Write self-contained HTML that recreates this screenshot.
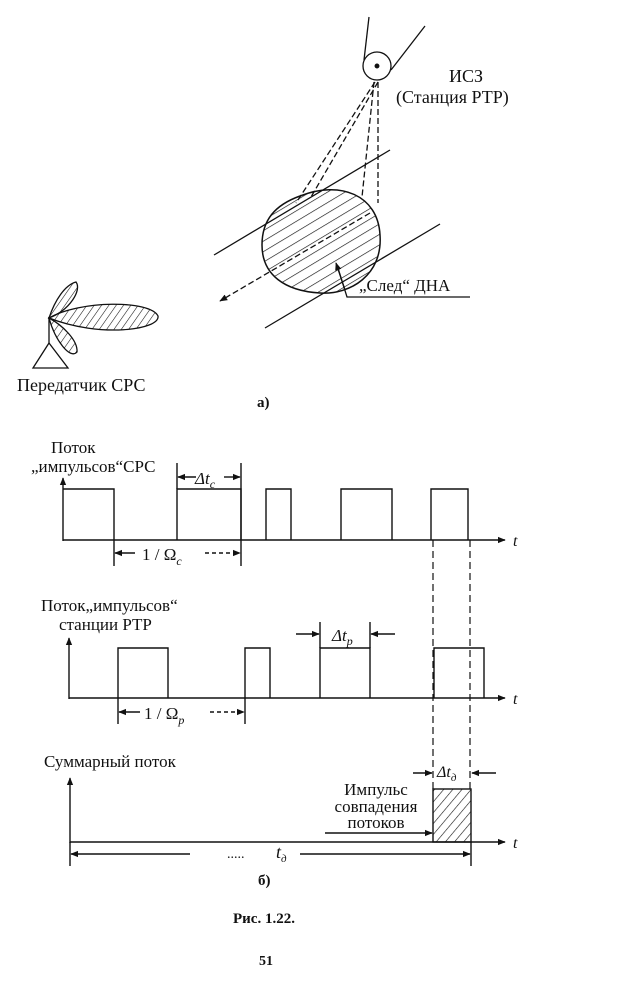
<!DOCTYPE html>
<html><head><meta charset="utf-8"><style>
html,body{margin:0;padding:0;background:#fff;}
svg{display:block;}
text{font-family:"Liberation Serif","DejaVu Serif",serif;fill:#111;}
</style></head><body>
<svg width="640" height="990" viewBox="0 0 640 990" xmlns="http://www.w3.org/2000/svg">
<defs>
<pattern id="h1" patternUnits="userSpaceOnUse" width="9" height="9" patternTransform="rotate(-31)">
<line x1="0" y1="0" x2="9" y2="0" stroke="#111" stroke-width="1.3"/>
</pattern>
<pattern id="h2" patternUnits="userSpaceOnUse" width="6" height="6" patternTransform="rotate(-55)">
<line x1="0" y1="0" x2="6" y2="0" stroke="#111" stroke-width="1.1"/>
</pattern>
<pattern id="h3" patternUnits="userSpaceOnUse" width="7" height="7" patternTransform="rotate(-50)">
<line x1="0" y1="0" x2="7" y2="0" stroke="#111" stroke-width="1.2"/>
</pattern>
<marker id="a" viewBox="0 0 10 10" refX="9" refY="5" markerWidth="8" markerHeight="8" orient="auto-start-reverse" markerUnits="userSpaceOnUse"><path d="M0,1 L10,5 L0,9 z" fill="#111"/></marker>
</defs>
<g stroke="#111" fill="none" stroke-width="1.3">
<!-- satellite -->
<line x1="369" y1="17" x2="364" y2="60"/>
<line x1="425" y1="26" x2="391" y2="70"/>
<circle cx="377" cy="66" r="14"/>
<circle cx="377" cy="66" r="1.8" fill="#111"/>
<g stroke-dasharray="6,3">
<line x1="375" y1="82" x2="296" y2="203"/>
<line x1="378" y1="82" x2="311" y2="197"/>
<line x1="374" y1="82" x2="362" y2="197"/>
<line x1="378" y1="82" x2="378" y2="203"/>
</g>
<!-- corridor -->
<line x1="214" y1="255" x2="390" y2="150"/>
<line x1="265" y1="328" x2="440" y2="224"/>
<!-- footprint -->
<path d="M300,196 C340,180 378,195 380,235 C383,275 350,295 320,293 C285,291 262,275 262,245 C262,220 275,205 300,196 Z" fill="url(#h1)" stroke-width="1.5"/>
<line x1="370" y1="213" x2="220" y2="301" stroke-dasharray="6,3" marker-end="url(#a)"/>
<polyline points="337,265 347,297 470,297"/>
<line x1="345" y1="290" x2="336" y2="263" marker-end="url(#a)"/>
<!-- antenna -->
<path d="M49,318 C80,300 150,300 158,316 C160,330 100,338 49,318 Z" fill="url(#h2)"/>
<path d="M49,318 C55,300 65,285 76,282 C82,290 70,310 49,318 Z" fill="url(#h2)"/>
<path d="M49,318 C62,325 78,340 77,352 C70,360 55,340 49,318 Z" fill="url(#h2)"/>
<line x1="49" y1="318" x2="49" y2="343"/>
<path d="M49,343 L33,368 L68,368 Z"/>
</g>
<text x="449" y="82" font-size="18" font-family="Liberation Sans, sans-serif">ИСЗ</text>
<text x="396" y="103" font-size="18" font-family="Liberation Sans, sans-serif">(Станция РТР)</text>
<text x="359" y="291" font-size="17" font-family="Liberation Sans, sans-serif">„След“ ДНА</text>
<text x="17" y="391" font-size="18">Передатчик СРС</text>
<text x="257" y="407" font-size="15" font-weight="bold">а)</text>

<!-- timing diagrams -->
<g stroke="#111" fill="none" stroke-width="1.4">
<line x1="63" y1="541" x2="63" y2="478" marker-end="url(#a)"/>
<line x1="63" y1="540" x2="505" y2="540" marker-end="url(#a)"/>
<polyline points="63,489 114,489 114,540"/>
<polyline points="177,540 177,489 241,489 241,540"/>
<polyline points="266,540 266,489 291,489 291,540"/>
<polyline points="341,540 341,489 392,489 392,540"/>
<polyline points="431,540 431,489 468,489 468,540"/>
<line x1="177" y1="463" x2="177" y2="489"/>
<line x1="241" y1="463" x2="241" y2="566"/>
<line x1="114" y1="540" x2="114" y2="566"/>
<line x1="196" y1="477" x2="178" y2="477" marker-end="url(#a)"/>
<line x1="224" y1="477" x2="240" y2="477" marker-end="url(#a)"/>
<line x1="135" y1="553" x2="115" y2="553" marker-end="url(#a)"/>
<line x1="205" y1="553" x2="240" y2="553" stroke-dasharray="4,3" marker-end="url(#a)"/>

<line x1="69" y1="699" x2="69" y2="638" marker-end="url(#a)"/>
<line x1="69" y1="698" x2="505" y2="698" marker-end="url(#a)"/>
<polyline points="118,698 118,648 168,648 168,698"/>
<polyline points="245,698 245,648 270,648 270,698"/>
<polyline points="320,698 320,648 370,648 370,698"/>
<polyline points="434,698 434,648 484,648 484,698"/>
<line x1="320" y1="622" x2="320" y2="648"/>
<line x1="370" y1="622" x2="370" y2="648"/>
<line x1="296" y1="634" x2="319" y2="634" marker-end="url(#a)"/>
<line x1="395" y1="634" x2="371" y2="634" marker-end="url(#a)"/>
<line x1="118" y1="698" x2="118" y2="724"/>
<line x1="245" y1="698" x2="245" y2="724"/>
<line x1="140" y1="712" x2="119" y2="712" marker-end="url(#a)"/>
<line x1="210" y1="712" x2="244" y2="712" stroke-dasharray="4,3" marker-end="url(#a)"/>

<g stroke-dasharray="7,4" stroke-width="1.2">
<line x1="433" y1="540" x2="433" y2="789"/>
<line x1="470" y1="540" x2="470" y2="789"/>
</g>

<line x1="70" y1="843" x2="70" y2="778" marker-end="url(#a)"/>
<line x1="70" y1="842" x2="505" y2="842" marker-end="url(#a)"/>
<rect x="433" y="789" width="38" height="53" fill="url(#h3)"/>
<line x1="471" y1="842" x2="471" y2="866"/>
<line x1="70" y1="842" x2="70" y2="866"/>
<line x1="413" y1="773" x2="432" y2="773" marker-end="url(#a)"/>
<line x1="496" y1="773" x2="472" y2="773" marker-end="url(#a)"/>
<line x1="325" y1="833" x2="432" y2="833" marker-end="url(#a)"/>
<line x1="190" y1="854" x2="71" y2="854" marker-end="url(#a)"/>
<line x1="300" y1="854" x2="470" y2="854" marker-end="url(#a)"/>
</g>
<text x="51" y="453" font-size="17">Поток</text>
<text x="31" y="472" font-size="17">„импульсов“СРС</text>
<text x="195" y="484" font-size="17" font-style="italic">Δ<tspan>t</tspan><tspan font-size="12" dy="4">c</tspan></text>
<text x="142" y="560" font-size="17">1 / Ω<tspan font-size="12" dy="5" font-style="italic">c</tspan></text>
<text x="513" y="546" font-size="16" font-style="italic">t</text>
<text x="41" y="611" font-size="17">Поток„импульсов“</text>
<text x="59" y="630" font-size="17">станции РТР</text>
<text x="332" y="641" font-size="17" font-style="italic">Δt<tspan font-size="12" dy="4">p</tspan></text>
<text x="144" y="719" font-size="17">1 / Ω<tspan font-size="12" dy="5" font-style="italic">p</tspan></text>
<text x="513" y="704" font-size="16" font-style="italic">t</text>
<text x="44" y="767" font-size="17">Суммарный поток</text>
<text x="437" y="777" font-size="16" font-style="italic">Δt<tspan font-size="11" dy="4">д</tspan></text>
<text x="376" y="795" font-size="17" text-anchor="middle">Импульс</text>
<text x="376" y="812" font-size="17" text-anchor="middle">совпадения</text>
<text x="376" y="828" font-size="17" text-anchor="middle">потоков</text>
<text x="513" y="848" font-size="16" font-style="italic">t</text>
<text x="227" y="858" font-size="14">.....</text>
<text x="276" y="858" font-size="18" font-style="italic">t<tspan font-size="11" dy="4">д</tspan></text>
<text x="258" y="885" font-size="15" font-weight="bold">б)</text>
<text x="233" y="923" font-size="15" font-weight="bold">Рис. 1.22.</text>
<text x="259" y="965" font-size="14" font-weight="bold">51</text>
</svg>
</body></html>
